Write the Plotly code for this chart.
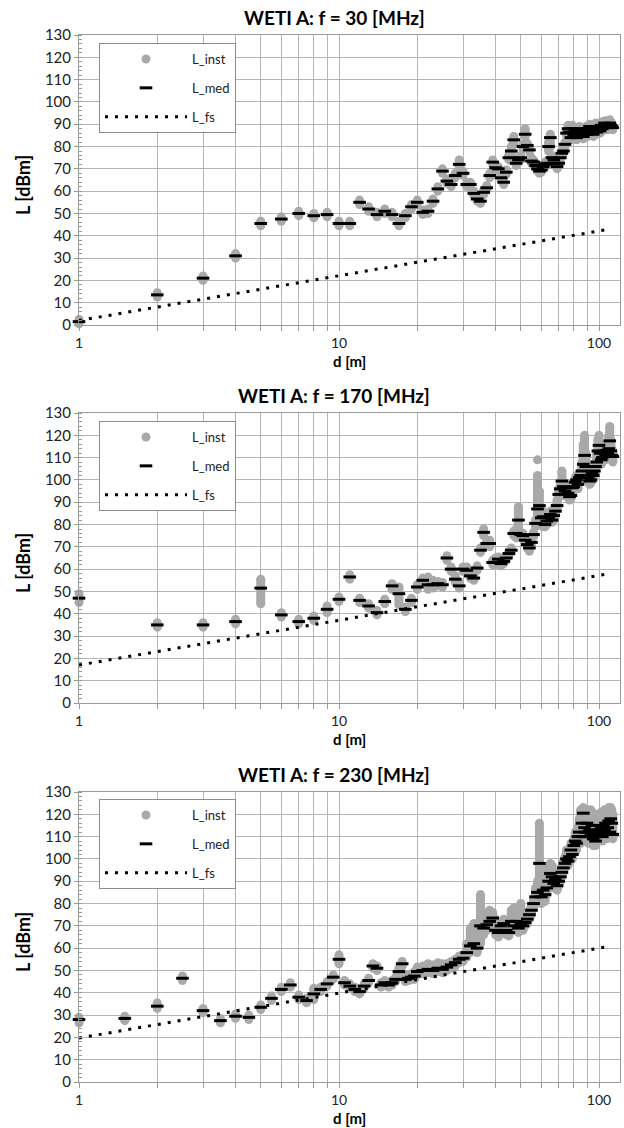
import plotly.graph_objects as go

# ---------------- data ----------------
TITLES = ["WETI A: f = 30 [MHz]", "WETI A: f = 170 [MHz]", "WETI A: f = 230 [MHz]"]

# --- f = 30 MHz ---
D1 = [1, 2, 3, 4, 5, 6, 7, 8, 9, 10, 11, 12, 13, 14, 15, 16, 17, 18, 19, 20,
      21, 22, 23, 24, 25, 26, 27, 28, 29, 30, 31, 32, 33, 34, 35, 36, 37, 38, 39, 40,
      41, 42, 43, 44, 45, 46, 47, 48, 49, 50, 51, 52, 53, 54, 55, 56, 57, 58, 59, 60,
      61, 62, 63, 64, 65, 66, 67, 68, 69, 70, 71, 72, 73, 74, 75, 76, 77, 78, 79, 80,
      81, 82, 83, 84, 85, 86, 87, 88, 89, 90, 91, 92, 93, 94, 95, 96, 97, 98, 99, 100,
      101, 102, 103, 104, 105, 106, 107, 108, 109, 110, 111, 112, 113]
MED1 = [1.5, 13.5, 21, 31, 45.5, 47.5, 50, 49, 49.5, 45.5, 45.5, 55, 52, 49.5, 51, 49.5, 45.5, 49, 53, 55,
        50.5, 51, 55.5, 61, 69, 64.5, 63, 67, 72, 68, 63, 63, 59, 56.5, 55.5, 59.5, 61.5, 67, 73, 70.5,
        70, 66, 64, 68.5, 75, 78, 83, 72.5, 74, 75, 80, 85.5, 80.5, 78.5, 73.5, 73, 71.5, 70, 69, 69.5,
        71, 72, 72.5, 80, 84, 75, 74, 72.5, 71, 72.5, 75, 77, 78, 81, 86, 88, 86.5, 84, 88, 85,
        87, 84, 86, 88, 85, 87, 84.5, 86, 88, 85.5, 87, 89, 86, 88, 85.5, 87, 89, 86.5, 88, 89,
        87, 89.5, 88, 89, 90.5, 89, 90, 88.5, 90, 90.5, 89.5, 89, 88.5]
LO1 = [0.5, 12.5, 20, 30, 44.5, 46.5, 49, 48, 48.5, 44.5, 44.5, 54, 51, 48.5, 50, 48.5, 44.5, 48, 52, 54,
       49.5, 50, 54.5, 60, 68, 63.5, 62, 66, 71, 67, 62, 62, 58, 55.5, 54.5, 58.5, 60.5, 66, 72, 69.5,
       69, 65, 63, 67.5, 74, 77, 81, 71.5, 73, 74, 79, 84.5, 79.5, 77.5, 72.5, 72, 70.5, 69, 68, 68.5,
       70, 71, 71.5, 78, 80, 74, 73, 71.5, 70, 71.5, 74, 76, 77, 80, 85, 87, 85.5, 83, 87, 84,
       86, 83, 85, 87, 84, 86, 83.5, 85, 87, 84.5, 86, 88, 85, 87, 84.5, 86, 88, 85.5, 87, 88,
       86, 88.5, 87, 88, 89.5, 88, 89, 87.5, 89, 89.5, 88.5, 88, 87.5]
HI1 = [2.5, 14.5, 22, 32, 46.5, 48.5, 51, 50, 50.5, 46.5, 46.5, 56, 53, 50.5, 52, 50.5, 46.5, 50, 54, 56,
       51.5, 52, 56.5, 62, 70, 65.5, 64, 68, 74, 69, 64, 64, 60, 57.5, 57, 60.5, 62.5, 68, 74, 71.5,
       71, 67, 65, 69.5, 76.5, 80, 84.5, 73.5, 75, 76, 81, 88, 81.5, 79.5, 75, 74, 72.5, 71, 70, 70.5,
       72, 73, 73.5, 82, 85.5, 76, 75, 73.5, 72, 73.5, 76, 78, 79, 82, 87, 89.5, 88, 85, 89.5, 86,
       88.5, 85, 87, 89, 86, 88, 85.5, 87, 89, 86.5, 88, 90, 87, 89, 86.5, 88, 90.5, 87.5, 89, 90,
       88, 91, 89, 90, 91.5, 90, 91.5, 89.5, 91, 92, 91, 90.5, 89.5]
EXTRA_D1 = []
EXTRA_L1 = []
FS_D1 = [1, 110]
FS_L1 = [2, 43]

# --- f = 170 MHz ---
D2 = D1
MED2 = [47, 35, 35, 36.5, 51.5, 39.5, 36.5, 38, 42, 46.5, 56.5, 46, 43.5, 40.5, 45.5, 52.5, 49, 42, 46, 52,
        55, 53, 53, 53.5, 53, 65, 60, 55.5, 52.5, 60, 59.5, 57, 56, 60.5, 68.5, 76.5, 71.5, 71.5, 63, 63,
        64.5, 62.5, 63.5, 65, 67, 68.5, 76, 76, 82, 75.5, 75, 73, 71, 69.5, 72, 75.5, 80.5, 87, 88.5, 83,
        83.5, 80, 81.5, 83, 84.5, 82, 84, 86, 88.5, 93.5, 96, 99.5, 97, 95, 96.5, 94, 92.5, 93, 96.5, 97,
        99, 100, 98, 101, 102, 104, 107, 111, 106, 102, 101, 99.5, 100, 103, 102, 104, 106, 108, 113, 115.5,
        112, 109, 110, 112, 113, 111, 113, 112, 114, 117.5, 113, 111, 110.5]
LO2 = [45, 34, 34, 35.5, 44.5, 38.5, 35.5, 37, 40.5, 45.5, 55.5, 45, 42.5, 39.5, 44.5, 51, 44, 41, 45, 51,
       54, 51, 51.5, 52.5, 52, 64, 59, 54, 51.5, 59, 58, 56, 55, 59.5, 67.5, 75, 70.5, 70, 62, 62,
       63, 61.5, 62.5, 64, 66, 67.5, 75, 74, 76, 74.5, 74, 72, 69.5, 68, 71, 74.5, 79, 80, 84, 81,
       79, 79, 80, 81, 83, 81, 82, 85, 87, 92, 94, 95, 95, 93, 95, 92, 91, 91.5, 95, 95.5,
       97.5, 98, 96, 99, 100, 102, 104, 106, 102, 100, 99, 98, 98.5, 101, 100, 102, 104, 106, 110, 112,
       110, 107, 108, 110, 111, 109, 111, 110, 111, 113, 110, 109, 108]
HI2 = [49, 36, 36, 37.5, 55.5, 40.5, 37.5, 39, 43.5, 47.5, 57.5, 47, 44.5, 41.5, 46.5, 53.5, 52, 43, 47, 53,
       56, 56.5, 55, 54.5, 54, 66, 61, 57, 54, 61, 61, 58, 57.5, 61.5, 69.5, 78, 72.5, 73, 64, 65,
       65.5, 63.5, 64.5, 66, 68, 69.5, 77, 78, 88, 76.5, 76, 74, 72, 70.5, 73, 76.5, 82, 102, 95, 86,
       86, 82, 83, 85, 86, 84, 86, 88, 91, 96, 98, 104, 99, 96, 98, 95, 94, 95, 98, 99,
       101, 102, 100, 103, 104, 108, 116, 120, 112, 105, 103, 101, 102, 105, 104, 106, 108, 112, 118, 120,
       115, 111, 112, 114, 115, 113, 115, 116, 120, 124, 118, 114, 113]
EXTRA_D2 = [58]
EXTRA_L2 = [109]
FS_D2 = [1, 110]
FS_L2 = [17, 58]

# --- f = 230 MHz ---
D3 = [1, 1.5, 2, 2.5, 3, 3.5, 4, 4.5, 5, 5.5, 6, 6.5, 7, 7.5, 8, 8.5, 9, 9.5, 10, 10.5,
      11, 11.5, 12, 12.5, 13, 13.5, 14, 14.5, 15, 15.5, 16, 16.5, 17, 17.5, 18, 18.5, 19, 19.5, 20,
      21, 22, 23, 24, 25, 26, 27, 28, 29, 30, 31, 32, 33, 34, 35, 36, 37, 38, 39, 40,
      41, 42, 43, 44, 45, 46, 47, 48, 49, 50, 51, 52, 53, 54, 55, 56, 57, 58, 59, 60,
      61, 62, 63, 64, 65, 66, 67, 68, 69, 70, 71, 72, 73, 74, 75, 76, 77, 78, 79, 80,
      81, 82, 83, 84, 85, 86, 87, 88, 89, 90, 91, 92, 93, 94, 95, 96, 97, 98, 99, 100,
      101, 102, 103, 104, 105, 106, 107, 108, 109, 110, 111, 112, 113]
MED3 = [28, 28.5, 34, 46.5, 32, 27.5, 29.5, 29, 33.5, 37.5, 41.5, 43.5, 38, 36.5, 39.5, 41.5, 44, 47, 55, 44.5,
        43, 41.5, 40.5, 43, 45.5, 52, 51, 43.5, 44.5, 43.5, 44.5, 46, 49.5, 53, 46, 46.5, 47, 47.5, 49.5,
        50, 50.5, 50, 51, 50.5, 51.5, 52.5, 53.5, 55, 55.5, 58, 61, 62, 60, 70, 69, 70.5, 72, 73.5, 68,
        67, 70, 71, 68, 67, 72, 70, 72, 69, 71, 70, 71.5, 73, 75, 77, 80, 83, 85, 98, 83,
        86, 84, 87, 90, 93.5, 92, 89, 91, 88, 90, 92, 94, 96, 98, 100, 99, 101, 104, 102, 106,
        108, 107, 110, 112, 110, 116, 120.5, 114, 112, 116, 110, 113, 111, 115, 109, 112, 108, 111, 113, 110,
        112, 114, 110, 115, 113, 116, 111, 114, 117, 112, 118, 116, 111]
LO3 = [26.5, 27.5, 33, 45.5, 31, 26.5, 28.5, 28, 32.5, 36.5, 40.5, 42.5, 37, 35.5, 37, 40.5, 43, 46, 53, 43.5,
       42, 40.5, 39.5, 42, 44.5, 51, 50, 42.5, 43.5, 42.5, 43.5, 45, 48.5, 52, 45, 45.5, 46, 46, 48,
       48.5, 49, 48.5, 49.5, 49, 50, 51, 52, 53.5, 54, 56, 58, 59, 58, 62, 66, 68, 70, 71, 66,
       65, 68, 69, 66, 65.5, 70, 68, 70, 67, 69, 68, 70, 71, 73, 75, 78, 80, 81, 82, 80,
       83, 81, 84, 87, 90, 89, 87, 89, 86, 88, 90, 92, 94, 96, 98, 97, 99, 102, 100, 103,
       105, 104, 107, 108, 107, 112, 114, 110, 108, 112, 107, 110, 108, 111, 106, 109, 106, 108, 110, 108,
       109, 111, 108, 112, 110, 113, 109, 111, 114, 110, 115, 113, 109]
HI3 = [29, 29.5, 35.5, 47.5, 33, 28.5, 30.5, 30, 34.5, 38.5, 42.5, 44.5, 39, 37.5, 42, 42.5, 45, 48, 57, 45.5,
       44, 42.5, 41.5, 44, 46.5, 53, 52, 44.5, 45.5, 44.5, 45.5, 47, 51, 54, 47.5, 48, 48.5, 49.5, 51.5,
       52, 53, 52.5, 53.5, 53, 53, 54, 55, 56.5, 57, 62, 69, 71, 66, 84, 76, 73, 77, 76, 73,
       70, 72, 73, 70, 69, 77, 78, 76, 74, 80, 73, 74, 75, 77, 79, 82, 87, 90, 116, 88,
       93, 88, 96, 97, 98, 97, 93, 94, 91, 93, 95, 97, 99, 101, 104, 102, 104, 107, 105, 109,
       112, 111, 114, 118, 122, 122, 123, 122, 121, 122, 120, 121, 122, 121, 119, 120, 115, 118, 120, 117,
       119, 121, 116, 121, 122, 121, 119, 120, 123, 120, 123, 122, 120]
EXTRA_D3 = []
EXTRA_L3 = []
FS_D3 = [1, 106]
FS_L3 = [19.7, 60.5]

X_TICKS = [1, 10, 100]
X_TICKTEXT = ["1", "10", "100"]
Y_TITLE = "L [dBm]"
X_TITLE = "d [m]"

CHARTS = [
    (D1, MED1, LO1, HI1, EXTRA_D1, EXTRA_L1, FS_D1, FS_L1),
    (D2, MED2, LO2, HI2, EXTRA_D2, EXTRA_L2, FS_D2, FS_L2),
    (D3, MED3, LO3, HI3, EXTRA_D3, EXTRA_L3, FS_D3, FS_L3),
]

# ---------------- styling / layout ----------------
W, H = 624, 1128
GRAY = "#a9a9a9"
GRID = "#b5b5b5"
AXIS = "#9a9a9a"
FONT = "Lato"
TXT = "#222222"

PLOT_L, PLOT_R = 79, 620
PLOT_TOPS = [35, 413, 792]
PLOT_H = 290
LEG_TOPS = [43, 421, 799]
XRANGE = [0, (PLOT_R - PLOT_L) / 260.0]
MINOR_X = [2, 3, 4, 5, 6, 7, 8, 9, 20, 30, 40, 50, 60, 70, 80, 90]


def px(x):
    return x / W


def py(y):
    return 1 - y / H


fig = go.Figure()
annotations = []
layout_axes = {}

for i, (D, MED, LO, HI, XD, XL, FSD, FSL) in enumerate(CHARTS):
    n = i + 1
    xa = "x" if n == 1 else f"x{n}"
    ya = "y" if n == 1 else f"y{n}"
    leg = "legend" if n == 1 else f"legend{n}"
    top = PLOT_TOPS[i]
    bot = top + PLOT_H

    # spread of instantaneous values (vertical streak) between LO and HI
    fig.add_trace(go.Scatter(
        x=D, y=LO, mode="markers", xaxis=xa, yaxis=ya, legend=leg, cliponaxis=False,
        marker=dict(color=GRAY, size=9), showlegend=False, hoverinfo="skip",
        error_y=dict(type="data", symmetric=False,
                     array=[h - l for h, l in zip(HI, LO)],
                     arrayminus=[0] * len(LO),
                     color=GRAY, thickness=9, width=0),
    ))
    fig.add_trace(go.Scatter(
        x=list(D) + list(XD), y=list(HI) + list(XL), mode="markers", name="L_inst",
        xaxis=xa, yaxis=ya, legend=leg, legendgroup=f"inst{n}", cliponaxis=False,
        marker=dict(color=GRAY, size=9),
    ))
    fig.add_trace(go.Scatter(
        x=D, y=MED, mode="markers", name="L_med", cliponaxis=False,
        xaxis=xa, yaxis=ya, legend=leg, legendgroup=f"med{n}",
        marker=dict(symbol="line-ew", size=9, color="black",
                    line=dict(color="black", width=3)),
    ))
    fig.add_trace(go.Scatter(
        x=FSD, y=FSL, mode="lines", name="L_fs",
        xaxis=xa, yaxis=ya, legend=leg, legendgroup=f"fs{n}",
        line=dict(color="black", width=3, dash="3px,7px"),
    ))

    xkey = "xaxis" if n == 1 else f"xaxis{n}"
    ykey = "yaxis" if n == 1 else f"yaxis{n}"
    layout_axes[xkey] = dict(
        type="log", range=XRANGE, domain=[px(PLOT_L), px(PLOT_R)], anchor=ya,
        tickvals=X_TICKS, ticktext=X_TICKTEXT, showgrid=True, gridcolor=GRID, gridwidth=1,
        ticks="outside", ticklen=5, tickcolor=AXIS, showline=True, linecolor=AXIS,
        mirror=True, zeroline=False, automargin=False,
        tickfont=dict(family=FONT, size=14, color=TXT),
        minor=dict(tickvals=MINOR_X, showgrid=True, gridcolor=GRID, gridwidth=1,
                   ticks="outside", ticklen=5, tickcolor=AXIS),
    )
    layout_axes[ykey] = dict(
        range=[0, 130], tick0=0, dtick=10, domain=[py(bot), py(top)], anchor=xa,
        showgrid=True, gridcolor=GRID, gridwidth=1, ticks="outside", ticklen=4,
        tickcolor=AXIS, showline=True, linecolor=AXIS, mirror=True, zeroline=False,
        automargin=False, tickfont=dict(family=FONT, size=15, color=TXT),
        minor=dict(dtick=2, ticks="inside", ticklen=3, tickcolor=AXIS, showgrid=False),
    )
    layout_axes[leg] = dict(
        x=px(99), y=py(LEG_TOPS[i]), xanchor="left", yanchor="top",
        bgcolor="white", bordercolor="#8c8c8c", borderwidth=1,
        font=dict(family=FONT, size=13, color=TXT), itemwidth=82,
        tracegroupgap=9, traceorder="grouped",
    )

    annotations.append(dict(text=f"<b>{TITLES[i]}</b>", x=px(334), y=py(top - 18),
                            xref="paper", yref="paper", showarrow=False,
                            xanchor="center", yanchor="middle",
                            font=dict(family=FONT, size=19, color="black")))
    annotations.append(dict(text=f"<b>{Y_TITLE}</b>", x=px(23), y=py((top + bot) / 2 + 5),
                            xref="paper", yref="paper", showarrow=False, textangle=-90,
                            xanchor="center", yanchor="middle",
                            font=dict(family=FONT, size=18, color="black")))
    annotations.append(dict(text=f"<b>{X_TITLE}</b>", x=px((PLOT_L + PLOT_R) / 2), y=py(bot + 36),
                            xref="paper", yref="paper", showarrow=False,
                            xanchor="center", yanchor="middle",
                            font=dict(family=FONT, size=15, color="black")))

fig.update_layout(
    width=W, height=H, margin=dict(l=0, r=0, t=0, b=0),
    paper_bgcolor="white", plot_bgcolor="white",
    annotations=annotations, **layout_axes,
)

fig.write_html(
    "out.html",
    config={"displayModeBar": False},
    post_script="document.body.style.margin='0';document.body.style.overflow='hidden';",
)
